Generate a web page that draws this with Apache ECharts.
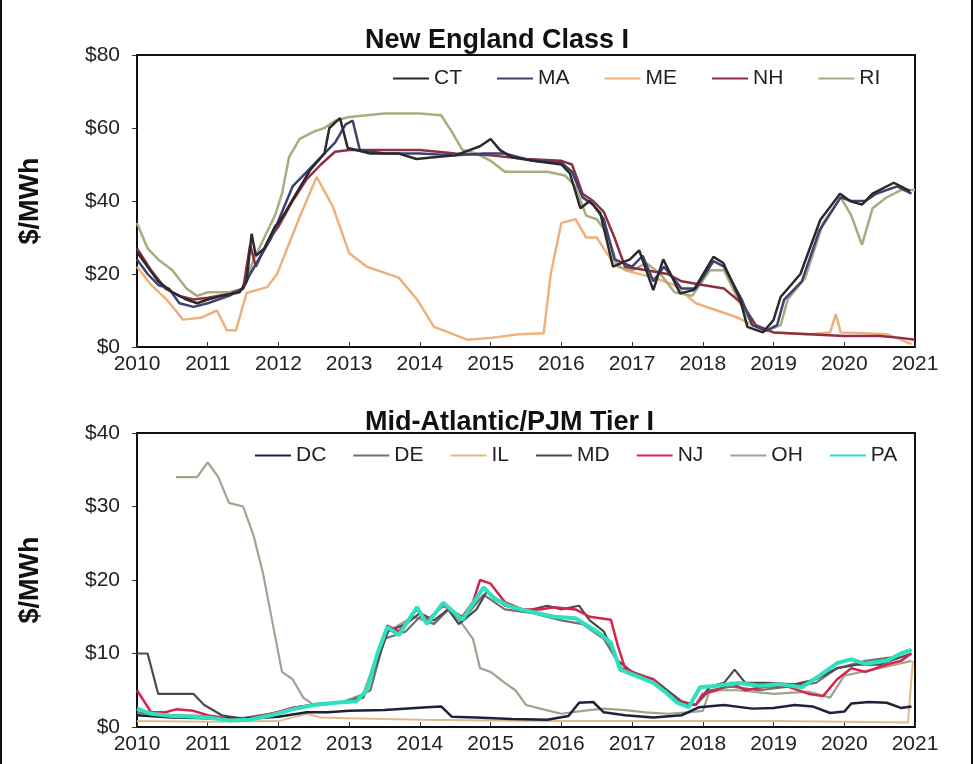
<!DOCTYPE html>
<html>
<head>
<meta charset="utf-8">
<script src="https://cdn.jsdelivr.net/npm/echarts@6/dist/echarts.min.js"></script>
<style>
html,body{margin:0;padding:0;background:#fff;}
#wrap{position:relative;width:978px;height:764px;}
#chart{position:absolute;left:0;top:0;width:978px;height:764px;}
.edge{position:absolute;top:0;width:2px;height:764px;background:#111;}
</style>
</head>
<body>
<div id="wrap">
<div id="chart"></div>
<div class="edge" style="left:0px"></div>
<div class="edge" style="left:971px"></div>
</div>
<script>
// ---------- DATA ----------
const yearTicks = [2010,2011,2012,2013,2014,2015,2016,2017,2018,2019,2020,2021];
const neTitle = 'New England Class I';
const pjmTitle = 'Mid-Atlantic/PJM Tier I';
const neStates = ['CT','MA','ME','NH','RI'];
const pjmStates = ['DC','DE','IL','MD','NJ','OH','PA'];

// New England Class I ($/MWh), [year, value]
const ctData = [[2010,26],[2010.15,22],[2010.3,18],[2010.5,15],[2010.7,13],[2010.85,12],[2011,13],[2011.2,14],[2011.45,15],[2011.55,18],[2011.62,31],[2011.68,25],[2011.8,27],[2011.95,33],[2012,34],[2012.1,37],[2012.25,42],[2012.45,48.5],[2012.65,53],[2012.72,60],[2012.87,62.7],[2012.98,54.5],[2013.3,53],[2013.7,53],[2013.95,51.5],[2014.2,52],[2014.5,52.5],[2014.85,55],[2015,57],[2015.13,54],[2015.3,52],[2015.6,51],[2016,50],[2016.12,47.6],[2016.27,38],[2016.4,40],[2016.55,36.7],[2016.73,22],[2016.97,24],[2017.1,26.5],[2017.3,15.6],[2017.44,24],[2017.68,14.7],[2017.87,15.6],[2018.15,24.7],[2018.29,23],[2018.53,12.9],[2018.63,5.5],[2018.85,4],[2019,7.4],[2019.1,13.7],[2019.38,20],[2019.66,34.8],[2019.94,42],[2020.08,40],[2020.25,39],[2020.4,42],[2020.7,45],[2020.93,42.7]];
const maData = [[2010,24],[2010.15,20],[2010.3,17],[2010.45,16],[2010.6,12],[2010.8,11],[2011,12],[2011.3,14],[2011.5,16],[2011.6,20],[2011.75,25],[2011.9,30],[2012.05,37],[2012.2,44],[2012.4,48],[2012.6,52],[2012.8,56],[2012.95,61],[2013.05,62],[2013.15,54],[2013.5,53],[2014,53],[2014.5,52.5],[2014.9,53],[2015.2,53],[2015.6,51],[2016,50.5],[2016.15,48],[2016.3,41],[2016.45,39],[2016.6,35],[2016.75,24],[2017,22],[2017.15,25],[2017.3,18],[2017.45,22],[2017.7,16],[2017.9,16],[2018.15,23.5],[2018.3,22],[2018.55,13],[2018.7,6],[2018.9,4.5],[2019.05,6],[2019.15,13],[2019.4,18],[2019.65,32],[2019.95,41],[2020.1,40],[2020.3,40],[2020.45,42],[2020.75,44],[2020.95,42]];
const meData = [[2010,22],[2010.2,17],[2010.42,13],[2010.65,7.5],[2010.9,8],[2011.13,10],[2011.27,4.6],[2011.4,4.6],[2011.55,14.8],[2011.84,16.4],[2011.98,20],[2012.3,35.6],[2012.54,46.6],[2012.77,38.4],[2013,25.7],[2013.25,22],[2013.7,19],[2013.96,13],[2014.2,5.5],[2014.67,2],[2015,2.5],[2015.4,3.5],[2015.75,3.8],[2015.85,20],[2016,34],[2016.2,35],[2016.35,30],[2016.5,30],[2016.7,24],[2016.9,21],[2017.3,19],[2017.6,17],[2017.9,12],[2018.2,10],[2018.5,8],[2018.8,5],[2019,4],[2019.5,3.5],[2019.8,4],[2019.88,9],[2019.95,4],[2020.3,3.8],[2020.6,3.5],[2020.8,2],[2020.95,0.8]];
const nhData = [[2010,27],[2010.2,21],[2010.4,16],[2010.6,14],[2010.8,13],[2011,13.5],[2011.3,14.5],[2011.5,16],[2011.6,28],[2011.68,22],[2011.85,29],[2012,33],[2012.2,40],[2012.4,46],[2012.6,50],[2012.8,53.5],[2013,54],[2013.5,54],[2014,54],[2014.5,53],[2015,52.5],[2015.5,51.5],[2016,51],[2016.15,50],[2016.3,42],[2016.45,40],[2016.6,37],[2016.75,30],[2016.9,22],[2017.2,21],[2017.5,20],[2017.7,18],[2018,17],[2018.3,16],[2018.55,12],[2018.75,6],[2019,4],[2019.5,3.5],[2020,3],[2020.5,3],[2020.8,2.5],[2021,2]];
const riData = [[2010,34],[2010.15,27],[2010.3,24],[2010.5,21],[2010.7,16],[2010.85,14],[2011,15],[2011.3,15],[2011.5,16],[2011.65,24],[2011.8,30],[2011.95,36],[2012.05,42],[2012.15,52],[2012.3,57],[2012.5,59],[2012.65,60],[2012.8,62],[2013,63],[2013.5,64],[2014,64],[2014.3,63.5],[2014.45,59],[2014.6,54],[2014.8,53],[2015,51],[2015.2,48],[2015.8,48],[2016.05,47],[2016.2,44],[2016.35,36],[2016.5,35],[2016.65,31],[2016.8,22],[2017,21],[2017.2,23],[2017.4,20],[2017.6,15],[2017.85,14],[2018.1,21],[2018.3,21],[2018.5,13],[2018.7,6],[2018.9,4.5],[2019.1,6],[2019.2,13],[2019.45,19],[2019.7,34],[2019.95,41],[2020.1,36],[2020.25,28],[2020.4,38],[2020.6,41],[2020.8,43],[2021,43]];

// Mid-Atlantic/PJM Tier I ($/MWh), [year, value]
const dcData = [[2010,1.6],[2010.5,1.3],[2011,1.2],[2011.5,1.1],[2012,1.4],[2012.4,2],[2012.7,2],[2013,2.2],[2013.5,2.3],[2014.1,2.7],[2014.3,2.8],[2014.45,1.4],[2014.8,1.3],[2015.3,1.1],[2015.8,1],[2016.1,1.5],[2016.25,3.3],[2016.45,3.4],[2016.6,2],[2016.9,1.6],[2017.3,1.3],[2017.7,1.6],[2017.95,2.7],[2018.3,3],[2018.7,2.5],[2019,2.6],[2019.3,3],[2019.55,2.8],[2019.8,1.9],[2020,2.1],[2020.1,3.2],[2020.35,3.4],[2020.6,3.3],[2020.8,2.6],[2020.95,2.8]];
const deData = [[2010,2],[2010.3,1.7],[2010.6,1.6],[2011,1.5],[2011.5,1.2],[2012,2],[2012.5,3],[2013,3.4],[2013.3,5],[2013.5,12],[2013.8,13],[2014,15],[2014.2,14],[2014.4,16],[2014.6,14.5],[2014.9,18],[2015.2,16],[2015.6,15.5],[2016,14.5],[2016.3,14],[2016.6,12],[2016.85,8],[2017.1,7],[2017.4,5.5],[2017.7,3],[2017.9,3],[2018.1,5],[2018.4,5.5],[2018.8,5],[2019.2,5.5],[2019.6,6],[2019.9,8],[2020.3,9],[2020.7,9.5],[2020.95,10.5]];
const ilData = [[2010,0.8],[2011,0.7],[2012,0.8],[2012.4,1.8],[2012.6,1.3],[2013,1.2],[2014,1],[2015,0.9],[2016,0.8],[2017,0.8],[2018,0.8],[2019,0.8],[2020,0.7],[2020.9,0.6],[2020.97,9]];
const mdData = [[2010,10],[2010.15,10],[2010.3,4.5],[2010.8,4.5],[2010.95,3],[2011.2,1.6],[2011.5,1.1],[2011.9,1.7],[2012.2,2.6],[2012.5,3.1],[2012.9,3.4],[2013.2,4],[2013.4,9],[2013.55,13],[2013.8,14],[2014,15.5],[2014.2,14.5],[2014.4,16],[2014.55,14],[2014.8,16],[2014.95,18.5],[2015.2,16.5],[2015.5,15.8],[2015.8,16.5],[2016,16],[2016.25,16.5],[2016.4,14.5],[2016.6,13],[2016.8,9],[2017,7.5],[2017.3,6.5],[2017.5,5],[2017.7,3.5],[2017.9,3],[2018.1,5.5],[2018.3,6],[2018.45,7.8],[2018.6,6],[2018.9,6],[2019.3,5.8],[2019.6,6.5],[2019.9,8],[2020.2,8.5],[2020.5,8.5],[2020.8,9.5],[2020.95,10]];
const njData = [[2010,5],[2010.1,3.5],[2010.2,2],[2010.4,2],[2010.55,2.4],[2010.8,2.2],[2011,1.6],[2011.3,1],[2011.6,1.1],[2011.9,1.8],[2012.2,2.6],[2012.5,3],[2012.8,3.3],[2013.1,3.5],[2013.25,5],[2013.4,10],[2013.54,13.8],[2013.7,13],[2013.96,16],[2014.1,14.5],[2014.33,16.5],[2014.6,15],[2014.75,17],[2014.85,20],[2015,19.5],[2015.2,17],[2015.45,16],[2015.7,16],[2015.9,16.3],[2016.2,16],[2016.4,15],[2016.7,14.6],[2016.8,11],[2016.9,8],[2017.1,7],[2017.3,6.5],[2017.5,4.5],[2017.7,3.3],[2017.9,3],[2018,4.5],[2018.2,5],[2018.4,6],[2018.6,5],[2018.9,5.5],[2019.2,5.5],[2019.5,4.5],[2019.7,4.2],[2019.9,6.5],[2020.1,8],[2020.3,7.5],[2020.6,8.5],[2020.8,9],[2020.95,10]];
const ohData = [[2010.55,34],[2010.85,34],[2011,36],[2011.15,34],[2011.3,30.5],[2011.5,30],[2011.65,26],[2011.78,21],[2011.92,14],[2012.05,7.5],[2012.2,6.5],[2012.35,4],[2012.5,3],[2012.9,3.4],[2013.2,4.5],[2013.4,10],[2013.55,13],[2013.9,15],[2014.2,14],[2014.4,16],[2014.6,14],[2014.75,12],[2014.85,8],[2015,7.5],[2015.2,6],[2015.35,5],[2015.5,3],[2015.7,2.5],[2016,1.8],[2016.3,2.2],[2016.6,2.5],[2016.9,2.3],[2017.2,2],[2017.5,1.8],[2017.8,2],[2018,2.2],[2018.1,5],[2018.5,5],[2019,4.5],[2019.5,4.8],[2019.8,4],[2020,7],[2020.5,8],[2020.95,9]];
const paData = [[2010,2.5],[2010.2,1.8],[2010.5,1.5],[2010.8,1.4],[2011,1.3],[2011.3,0.9],[2011.6,1],[2011.9,1.6],[2012.2,2.4],[2012.5,3],[2012.8,3.3],[2013.1,3.5],[2013.25,5],[2013.4,10],[2013.54,13.6],[2013.7,12.5],[2013.96,16.3],[2014.1,14],[2014.33,16.9],[2014.6,14.6],[2014.9,19],[2015.05,17.5],[2015.25,16.5],[2015.42,16],[2015.65,15.5],[2015.9,15],[2016.2,14.8],[2016.5,13],[2016.7,11.5],[2016.83,7.8],[2017.05,7],[2017.3,6],[2017.5,4.5],[2017.64,3.3],[2017.8,2.7],[2017.96,5.4],[2018.2,5.6],[2018.5,6],[2018.8,5.6],[2019.1,5.8],[2019.4,5.4],[2019.65,7],[2019.9,8.7],[2020.1,9.2],[2020.3,8.6],[2020.6,9],[2020.8,10],[2020.95,10.5]];

// ---------- CHART ----------
const FONT = '"Liberation Sans", Arial, sans-serif';
const chart = echarts.init(document.getElementById('chart'), null, {renderer:'canvas'});

function xAx(gi){
  return {
    type:'value', gridIndex:gi, min:2010, max:2021, interval:1,
    axisLine:{show:true, lineStyle:{color:'#111', width:1.5}},
    axisTick:{show:true, inside:true, length:5, lineStyle:{color:'#333'}},
    axisLabel:{fontFamily:FONT, fontSize:21, color:'#222', margin:7, formatter:v=>String(v)},
    splitLine:{show:false}
  };
}
function yAx(gi, max, interval){
  return {
    type:'value', gridIndex:gi, min:0, max:max, interval:interval,
    name:'$/MWh', nameLocation:'middle', nameGap:93, nameRotate:90,
    nameTextStyle:{fontFamily:FONT, fontSize:27, fontWeight:'bold', color:'#111'},
    axisLine:{show:true, lineStyle:{color:'#111', width:1.5}},
    axisTick:{show:true, inside:false, length:5, lineStyle:{color:'#333'}},
    axisLabel:{fontFamily:FONT, fontSize:21, color:'#222', margin:17, formatter:v=>'$'+v},
    splitLine:{show:false}
  };
}
function ser(name, data, color, width, gi){
  return {
    name:name, type:'line', xAxisIndex:gi, yAxisIndex:gi, data:data,
    showSymbol:false, symbol:'none', smooth:false,
    lineStyle:{color:color, width:width}, itemStyle:{color:color},
    emphasis:{disabled:true}, z:2
  };
}

const colors = {
  CT:'#2a2a2a', MA:'#3e4270', ME:'#f0b07a', NH:'#8e2f42', RI:'#a7ad80',
  DC:'#1c2238', DE:'#707070', IL:'#e2b98a', MD:'#4a4a4a', NJ:'#d8244c', OH:'#a2a290', PA:'#2fe0bf'
};

const option = {
  animation:false,
  backgroundColor:'#ffffff',
  title:[
    {text:neTitle, left:360, top:22, textStyle:{fontFamily:FONT, fontSize:27, fontWeight:'bold', color:'#111'}},
    {text:pjmTitle, left:360, top:404, textStyle:{fontFamily:FONT, fontSize:27, fontWeight:'bold', color:'#111'}}
  ],
  legend:[
    {data:neStates, left:388, top:63, itemWidth:36, itemHeight:10, itemGap:35, icon:'path://M0,4 L36,4 L36,6 L0,6 Z',
     textStyle:{fontFamily:FONT, fontSize:21, color:'#222'}, selectedMode:false},
    {data:pjmStates, left:250, top:440, itemWidth:36, itemHeight:10, itemGap:27, icon:'path://M0,4 L36,4 L36,6 L0,6 Z',
     textStyle:{fontFamily:FONT, fontSize:21, color:'#222'}, selectedMode:false}
  ],
  grid:[
    {left:137, right:63, top:55, height:292, show:true, borderColor:'#111', borderWidth:2, backgroundColor:'transparent'},
    {left:137, right:63, top:433, height:294, show:true, borderColor:'#111', borderWidth:2, backgroundColor:'transparent'}
  ],
  xAxis:[xAx(0), xAx(1)],
  yAxis:[yAx(0, 80, 20), yAx(1, 40, 10)],
  series:[
    ser('ME', meData, colors.ME, 2.5, 0),
    ser('RI', riData, colors.RI, 2.5, 0),
    ser('NH', nhData, colors.NH, 2.5, 0),
    ser('MA', maData, colors.MA, 2.5, 0),
    ser('CT', ctData, colors.CT, 2.5, 0),
    ser('IL', ilData, colors.IL, 2, 1),
    ser('OH', ohData, colors.OH, 2.2, 1),
    ser('DE', deData, colors.DE, 2.2, 1),
    ser('MD', mdData, colors.MD, 2.2, 1),
    ser('DC', dcData, colors.DC, 2.5, 1),
    ser('NJ', njData, colors.NJ, 2.5, 1),
    ser('PA', paData, colors.PA, 4, 1)
  ]
};
chart.setOption(option);
</script>
</body>
</html>
